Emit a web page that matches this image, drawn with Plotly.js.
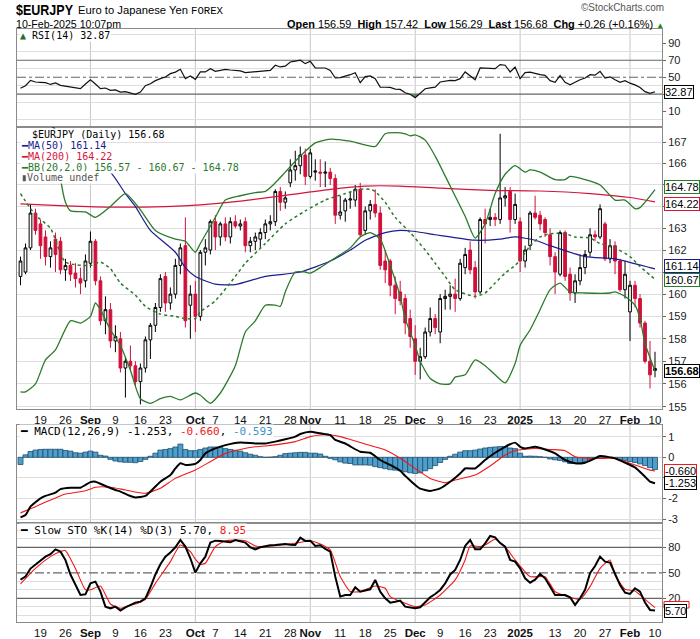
<!DOCTYPE html>
<html><head><meta charset="utf-8">
<script src="https://cdn.plot.ly/plotly-3.0.1.min.js"></script>
<style>html,body{margin:0;padding:0;background:#fff}#chart{width:700px;height:639px}</style>
</head><body><div id="chart"></div>
<script>
// ---------------- DATA ----------------
const holidays = ['2024-12-25', '2025-01-01'];
const firstDay = '2024-08-13', lastDay = '2025-02-10';

// daily OHLC, Aug 13 2024 .. Feb 10 2025
const open = [160.8,161.0,162.1,163.7,163.2,162.6,161.7,162.5,162.4,161.1,161.3,160.95,160.7,160.6,161.4,162.4,160.6,158.8,159.3,157.9,158.0,156.7,157.0,156.8,156.1,156.7,157.95,158.6,159.4,160.8,159.6,160.0,161.3,162.2,159.5,160.0,159.0,161.9,162.0,163.3,162.6,163.2,162.6,163.3,163.1,163.3,162.2,162.4,162.5,162.8,163.2,163.3,164.7,164.2,165.1,165.7,165.9,166.4,165.4,165.6,165.6,165.55,165.6,165.3,163.6,163.8,164.3,164.3,164.8,162.9,163.8,164.1,163.7,161.5,161.5,160.4,160.1,159.8,158.9,158.0,157.0,157.2,158.3,158.9,158.3,159.8,159.9,160.0,159.8,161.2,162.0,161.2,160.1,163.4,163.4,163.5,163.4,164.4,164.7,163.4,163.3,161.5,162.2,163.7,163.6,163.4,162.7,161.7,160.9,162.8,160.9,160.05,160.6,161.2,161.9,162.7,162.6,163.2,161.6,162.2,161.5,160.2,159.2,160.4,159.8,158.7,157.0,156.59];
const high = [161.7,162.3,164.1,163.9,163.4,162.9,162.4,162.8,162.6,161.6,161.5,161.4,161.2,161.8,162.85,162.5,160.8,159.9,159.6,158.6,158.3,157.2,157.7,157.0,156.9,158.1,158.7,159.6,160.9,161.0,160.3,161.6,162.3,163.5,160.4,160.6,162.0,162.5,163.4,163.6,163.3,163.5,163.5,163.6,163.4,163.5,162.6,162.8,163.0,163.4,163.6,164.8,164.9,164.7,166.2,166.6,166.8,166.7,166.7,166.2,166.2,166.1,165.8,165.5,164.5,164.4,164.7,165.0,165.1,164.0,164.3,164.8,164.0,162.0,161.6,160.8,160.6,160.0,159.3,158.6,157.6,158.5,159.4,159.1,160.0,160.2,160.4,160.7,161.6,162.1,162.4,161.5,163.5,163.9,163.9,163.7,167.4,164.9,164.9,164.6,163.5,162.2,163.8,164.5,163.8,163.5,163.0,161.9,162.9,162.9,161.2,160.9,161.8,162.0,163.0,162.9,164.1,163.3,162.5,162.4,161.6,161.5,160.6,160.6,160.0,158.8,157.9,157.42];
const low = [160.4,160.9,162.0,162.7,161.6,161.3,161.2,161.0,160.9,160.6,160.6,160.3,160.0,160.3,161.2,160.4,158.6,158.2,157.6,157.4,156.5,155.4,156.6,155.9,155.1,156.5,157.1,158.3,159.2,159.2,159.3,159.8,160.9,158.5,158.0,158.3,158.8,161.3,161.8,162.0,162.2,162.4,162.3,163.0,162.9,161.9,161.9,162.0,162.1,162.5,162.9,163.1,163.8,163.9,164.9,165.2,165.5,165.0,165.3,165.2,164.9,164.9,165.0,163.2,163.4,163.3,163.9,164.0,162.6,162.7,163.4,163.5,161.1,160.5,159.9,159.1,159.5,158.2,157.6,156.4,156.2,157.1,158.1,158.2,157.8,159.3,159.3,159.2,159.7,160.9,160.9,159.8,160.0,162.3,163.1,163.1,163.2,164.0,162.8,163.2,161.0,161.2,162.0,163.4,162.9,162.6,161.3,160.0,160.8,160.6,159.7,159.6,160.4,160.9,161.7,162.4,162.5,161.5,161.4,160.9,160.1,159.8,157.9,159.4,158.5,156.9,155.8,156.29];
const close = [161.5,162.1,163.7,162.9,162.2,161.7,162.1,161.8,161.1,161.3,160.9,160.7,160.5,161.5,162.4,160.6,158.8,159.3,157.9,158.1,156.7,157.0,156.8,156.1,156.7,157.95,158.6,159.4,160.7,159.6,160.0,161.3,162.1,158.8,160.0,159.0,161.9,162.1,163.3,162.6,163.2,162.6,163.3,163.1,163.2,162.2,162.4,162.6,162.8,163.2,163.3,164.7,164.2,164.4,165.7,165.9,166.4,165.4,166.5,165.65,165.55,165.6,165.3,163.6,163.75,164.3,164.35,164.8,162.7,163.8,164.1,163.7,161.3,161.1,160.4,159.8,159.7,158.7,158.1,157.0,157.2,158.3,158.9,158.5,159.8,159.9,160.0,159.8,161.4,161.8,161.1,160.1,163.4,163.2,163.5,163.4,164.4,164.5,163.4,164.1,161.5,162.0,163.7,163.5,163.2,162.8,161.7,161.0,162.8,160.8,160.05,160.6,161.2,161.8,162.7,162.6,163.9,161.6,162.2,161.5,160.2,160.9,160.4,159.8,158.7,157.0,156.4,156.68];

// overlays (sparse readings, MM-DD)
const ma50Dates = ['08-13','08-19','08-22','08-29','09-06','09-11','09-13','09-18','09-25','09-27','10-01','10-07','10-11','10-21','10-30','11-07','11-13','11-18','11-22','11-27','12-02','12-06','12-11','12-18','12-26','12-31','01-07','01-10','01-21','01-29','02-07','02-10'];
const ma50Vals  = [168.6,168.2,167.6,166.6,165.6,164.6,164.0,162.9,161.9,161.2,160.8,160.45,160.43,160.8,161.0,161.5,162.0,162.45,162.8,162.9,162.85,162.7,162.6,162.45,162.5,162.6,162.45,162.2,161.7,161.6,161.2,161.14];
const ma200Dates = ['08-13','08-26','09-09','09-23','10-02','10-14','10-28','11-07','11-18','11-27','12-09','12-23','01-08','01-22','02-03','02-10'];
const ma200Vals  = [164.12,164.03,163.97,164.0,164.08,164.25,164.55,164.8,164.95,164.95,164.85,164.75,164.72,164.6,164.42,164.22];
const bbUpDates = ['08-13','08-16','08-21','08-22','08-23','08-26','08-27','08-30','09-03','09-06','09-11','09-16','09-19','09-25','09-27','10-01','10-02','10-07','10-09','10-14','10-17','10-21','10-23','10-25','10-30','11-04','11-07','11-13','11-20','11-22','11-26','11-28','11-29','12-02','12-04','12-06','12-11','12-16','12-18','12-20','12-24','12-27','12-31','01-03','01-06','01-08','01-13','01-15','01-16','01-21','01-24','01-29','01-31','02-04','02-05','02-10'];
const bbUpVals  = [172.5,171.0,169.0,167.2,165.3,164.2,163.8,163.75,163.5,164.0,164.6,163.85,162.9,162.5,162.4,161.9,162.3,163.5,164.3,164.5,164.65,164.7,165.1,165.6,166.35,166.97,167.15,167.05,166.8,167.4,167.45,167.4,167.3,167.35,167.1,166.35,164.95,163.55,162.55,163.2,164.6,165.5,165.9,165.6,165.7,165.6,165.25,165.25,165.4,165.25,165.0,164.3,164.3,163.9,163.95,164.78];
const bbMidDates = ['08-13','08-16','08-21','08-26','09-02','09-04','09-06','09-10','09-13','09-17','09-20','09-25','09-27','10-01','10-02','10-07','10-11','10-15','10-21','10-25','10-31','11-06','11-12','11-15','11-19','11-20','11-22','11-26','11-29','12-04','12-06','12-10','12-12','12-18','12-20','12-24','12-27','12-31','01-02','01-06','01-08','01-10','01-15','01-17','01-22','01-24','01-29','02-03','02-05','02-10'];
const bbMidVals  = [164.6,163.6,163.0,161.45,161.3,161.45,161.15,160.5,159.95,159.45,159.1,159.0,158.9,158.9,159.2,159.7,160.8,161.4,162.3,163.2,163.8,164.3,164.6,164.8,164.8,164.7,164.2,163.5,162.8,162.0,161.4,160.8,160.2,159.9,160.05,160.5,160.95,161.3,161.55,162.2,162.6,162.75,162.75,162.6,162.55,162.3,162.1,161.7,161.25,160.67];
const bbLoDates = ['08-13','08-14','08-16','08-20','08-22','08-27','08-29','09-02','09-03','09-04','09-06','09-10','09-12','09-16','09-18','09-20','09-24','09-26','10-01','10-02','10-04','10-08','10-11','10-15','10-17','10-21','10-23','10-24','10-25','10-29','10-31','11-01','11-05','11-07','11-13','11-15','11-19','11-21','11-25','11-27','11-28','12-02','12-03','12-05','12-09','12-11','12-12','12-16','12-18','12-20','12-24','12-27','12-31','01-02','01-06','01-08','01-10','01-14','01-16','01-21','01-28','01-29','01-31','02-04','02-05','02-06','02-10'];
const bbLoVals  = [155.65,155.65,156.0,157.06,157.5,158.8,158.7,159.0,159.6,159.3,158.4,157.7,156.6,155.35,155.15,155.35,155.45,155.3,155.6,155.5,155.15,155.6,156.8,158.3,158.8,159.5,159.5,159.45,160.1,161.0,161.0,160.95,161.2,161.5,162.1,162.6,162.8,162.5,161.3,159.9,158.9,157.7,157.0,156.24,156.0,156.0,156.3,156.4,157.06,156.8,156.4,156.05,156.9,157.7,158.4,159.3,160.2,160.5,160.1,160.05,160.05,160.1,159.9,159.5,158.9,157.8,156.57];

// RSI(14), daily
const rsi = [37,40,46.3,44.4,44,43.6,41.5,43.2,40.4,39.5,38.8,38,36.5,42,47.1,42,36.5,37.3,34.5,35,32.5,33,31.5,29.8,32.5,40,42.4,46,48.3,50.3,54.2,56,59.3,48.3,51.5,47.5,56.2,56.2,60.1,57,58,59.3,58.5,58.2,57.5,55.4,55.8,56.2,57,57.5,58,64.1,62.1,63,68,69,70,66,68.8,60.9,60.9,60.9,58,49.1,49.5,51,53,55.4,43.6,50.7,51.5,48.3,38.4,38.2,38,36,35.7,31.7,30,25.8,30.6,36.5,37.5,38.4,44.4,45,46.3,46,48.3,56.2,52,47.1,60.9,60.9,60.5,60.1,64.9,64.1,56.2,62.1,48.3,55.4,56,54.2,53,52.2,46,44,52,44,41,44,47,49,53,52.5,57,49,50.5,47,44,46,43,41,38,33,31,32.87];

// MACD(12,26,9)
const macdDates = ['08-13','08-14','08-15','08-19','08-20','08-22','08-23','08-27','08-29','08-30','09-02','09-03','09-05','09-09','09-10','09-12','09-13','09-17','09-18','09-20','09-24','09-25','09-26','09-27','10-01','10-02','10-03','10-07','10-09','10-14','10-17','10-21','10-23','10-25','10-29','10-30','11-01','11-05','11-07','11-08','11-12','11-13','11-15','11-19','11-21','11-25','11-27','11-28','11-29','12-02','12-03','12-05','12-09','12-11','12-13','12-16','12-18','12-20','12-24','12-27','12-30','12-31','01-02','01-03','01-07','01-09','01-13','01-15','01-17','01-21','01-23','01-24','01-29','01-31','02-04','02-06','02-07','02-10'];
const macdVals  = [-2.9,-2.79,-2.39,-1.99,-1.87,-1.71,-1.54,-1.47,-1.47,-1.34,-1.2,-1.18,-1.39,-1.58,-1.66,-1.87,-1.94,-1.87,-1.66,-1.18,-0.86,-0.54,-0.29,-0.37,-0.32,-0.13,0.19,0.43,0.59,0.72,0.67,0.67,0.76,0.87,1.0,1.13,1.24,1.16,1.08,0.84,0.67,0.53,0.27,0.22,-0.13,-0.37,-0.65,-0.9,-1.12,-1.34,-1.52,-1.63,-1.5,-1.18,-0.78,-0.54,-0.54,-0.13,0.22,0.51,0.63,0.71,0.51,0.43,0.51,0.38,0.19,-0.13,-0.29,-0.26,-0.05,0.06,-0.05,-0.26,-0.49,-0.94,-1.18,-1.253];
const signalDates = ['08-13','08-16','08-21','08-26','08-30','09-03','09-06','09-11','09-17','09-20','09-25','10-01','10-04','10-09','10-14','10-17','10-21','10-24','10-29','11-01','11-05','11-07','11-11','11-13','11-18','11-22','11-27','12-02','12-05','12-10','12-12','12-18','12-23','12-27','12-31','01-07','01-10','01-15','01-17','01-22','01-27','01-29','02-03','02-06','02-07','02-10'];
const signalVals  = [-2.69,-2.39,-2.07,-1.78,-1.62,-1.45,-1.45,-1.58,-1.74,-1.5,-1.02,-0.61,-0.21,0.19,0.38,0.51,0.55,0.64,0.76,1.0,1.08,1.08,1.0,0.86,0.64,0.35,-0.05,-0.54,-1.02,-1.23,-1.1,-0.86,-0.42,0.11,0.32,0.43,0.38,0.32,0.03,-0.05,-0.05,-0.05,-0.29,-0.54,-0.62,-0.66];
const macdHist = [-0.35,0.12,0.28,0.35,0.38,0.39,0.39,0.39,0.39,0.33,0.3,0.22,0.2,0.25,0.3,0.25,0.1,0.06,-0.1,-0.18,-0.22,-0.24,-0.24,-0.26,-0.2,-0.1,0.05,0.2,0.35,0.38,0.42,0.5,0.64,0.38,0.32,0.32,0.38,0.45,0.5,0.5,0.48,0.42,0.38,0.34,0.3,0.22,0.15,0.1,0.03,0.0,0.01,0.03,0.1,0.18,0.2,0.22,0.24,0.24,0.2,0.2,0.16,0.05,-0.05,-0.12,-0.22,-0.28,-0.3,-0.37,-0.37,-0.37,-0.38,-0.45,-0.5,-0.55,-0.6,-0.62,-0.65,-0.7,-0.75,-0.78,-0.75,-0.65,-0.55,-0.4,-0.25,-0.1,0.05,0.15,0.25,0.32,0.32,0.35,0.4,0.45,0.48,0.5,0.52,0.52,0.45,0.42,0.2,0.05,0.06,0.05,0.03,0.0,-0.08,-0.12,-0.15,-0.22,-0.3,-0.3,-0.3,-0.2,-0.12,-0.06,0.06,0.05,0.0,-0.05,-0.1,-0.15,-0.2,-0.25,-0.32,-0.4,-0.5,-0.593];

// Slow STO %K(14) %D(3)
const stoK = [42,45.5,55,60,65,69,72,77.6,74.9,65,48,35,23.9,24.7,37.6,39.6,27.8,10.2,8.2,10.2,5.5,9.4,12.2,14.9,16.1,20,33,48,60,69,74,80,88.6,80.8,67.1,50.2,61.2,69,85.5,87.8,87.5,87,85.9,88.6,87,85.5,80,77.6,80,81.6,82.5,82.7,83.5,83.9,83,82.7,91.4,87.5,87.8,81.6,82.4,78,74.9,45.5,22,23.9,23.9,32.9,27.8,29,30.6,41.6,27.8,20,14.9,16,17.3,10.2,9,8.2,9.4,15,21.2,25,29.8,37.6,48,53.3,65.1,81.6,88.6,77.6,77.6,84.7,93.3,91.8,85,80.8,65.1,63.1,55.3,43.5,38.4,42,48.6,43.5,33,23.9,24,23.9,21.2,12.2,20,30,49.4,58,69,63.1,62,48,35.7,26.7,25.1,31.8,27.8,15,6.3,5.7];
const stoDDates = ['08-13','08-16','08-21','08-23','08-26','08-28','08-30','09-02','09-04','09-06','09-10','09-12','09-13','09-17','09-19','09-24','09-26','09-30','10-01','10-02','10-03','10-07','10-09','10-15','10-17','10-21','10-25','10-29','11-01','11-05','11-07','11-11','11-13','11-15','11-20','11-22','11-25','11-28','12-02','12-04','12-09','12-12','12-16','12-17','12-19','12-20','12-24','12-27','12-31','01-06','01-09','01-13','01-16','01-20','01-22','01-24','01-28','01-29','01-31','02-04','02-06','02-10'];
const stoDVals  = [37,55.3,69,75,76,55,30,30,34.5,13.3,8.2,12,13.3,18.8,37.6,63.1,82.7,74.9,66,60,61.2,80.8,87.8,87.8,81.6,80.8,83.5,84.7,87.8,83.9,76.9,45.5,28,27.8,34.5,31.8,22,14.1,10.2,12.2,23.9,41.6,65.1,81.6,80.8,82.7,89.4,80.8,65.1,45.5,45.5,27.8,21.2,18.8,33.7,55.3,65.1,47.5,30.6,28.6,18.8,8.95];

// axis labels
const tickDates = ['08-19','08-26','09-02','09-09','09-16','09-23','10-01','10-07','10-14','10-21','10-28','11-01','11-11','11-18','11-25','12-02','12-09','12-16','12-23','01-02','01-13','01-20','01-27','02-03','02-10'];
const tickText  = ['19','26','<b>Sep</b>','9','16','23','<b>Oct</b>','7','14','21','28','<b>Nov</b>','11','18','25','<b>Dec</b>','9','16','23','<b>2025</b>','13','20','27','<b>Feb</b>','10'];
const monthDates = ['09-02','10-01','11-01','12-02','01-02','02-03'];
const priceTicks = [155,156,157,158,159,160,161,162,163,164,165,166,167];
const priceTickText = ['155','156','157','158','159','160','','162','163','','165','166','167'];
const rsiTicks = [10,30,50,70,90], rsiTickText = ['10','','50','70','90'];
const macdTicks = [-3,-2,-1,0,1], macdTickText = ['-3','-2','','0','1'];
const stoTicks = [20,50,80];

// ---------------- BUILD ----------------
function buildDays() {
  const out = []; let t = Date.parse(firstDay + 'T00:00:00Z'); const end = Date.parse(lastDay + 'T00:00:00Z');
  while (t <= end) { const d = new Date(t); const s = d.toISOString().slice(0, 10); const wd = d.getUTCDay();
    if (wd !== 0 && wd !== 6 && !holidays.includes(s)) out.push(s); t += 86400000; }
  return out;
}
const days = buildDays();
const idx = days.map((_, i) => i);
function ix(md) { return days.indexOf((+md.slice(0, 2) >= 8 ? '2024-' : '2025-') + md); }
const X = arr => arr.map(ix);
const last = a => a[a.length - 1];

const W = 700, H = 639, ML = 17, MR = 38, MT = 29, MB = 17;
const PW = W - ML - MR, PH = H - MT - MB;
const px = x => (x - ML) / PW, py = y => (H - MB - y) / PH;

const RED = '#d0103a', NAVY = '#1c1c8e', MA2 = '#d4143c', GREEN = '#2b7a2b', GRID = '#dedede', FRAME = '#8a8a8a';
const SANS = 'Liberation Sans, Arial, sans-serif', MONO = 'DejaVu Sans Mono, monospace';

const traces = [];
// RSI panel
traces.push({type: 'scatter', mode: 'lines', x: idx, y: rsi.map(() => 30), xaxis: 'x', yaxis: 'y', line: {width: 0, color: 'rgba(0,0,0,0)'}, hoverinfo: 'skip'});
traces.push({type: 'scatter', mode: 'lines', x: idx, y: rsi.map(v => Math.min(v, 30)), xaxis: 'x', yaxis: 'y', line: {width: 0, color: 'rgba(0,0,0,0)'}, fill: 'tonexty', fillcolor: 'rgba(70,130,70,0.85)'});
traces.push({type: 'scatter', mode: 'lines', x: idx, y: rsi, xaxis: 'x', yaxis: 'y', line: {color: '#111', width: 1.2}});
// Price panel
traces.push({type: 'scatter', mode: 'lines', x: X(ma200Dates), y: ma200Vals, xaxis: 'x2', yaxis: 'y2', line: {color: MA2, width: 1.2, shape: 'spline', smoothing: 0.6}});
traces.push({type: 'scatter', mode: 'lines', x: X(ma50Dates), y: ma50Vals, xaxis: 'x2', yaxis: 'y2', line: {color: NAVY, width: 1.2, shape: 'spline', smoothing: 0.6}});
traces.push({type: 'scatter', mode: 'lines', x: X(bbUpDates), y: bbUpVals, xaxis: 'x2', yaxis: 'y2', line: {color: GREEN, width: 1.3, shape: 'spline', smoothing: 0.6}});
traces.push({type: 'scatter', mode: 'lines', x: X(bbLoDates), y: bbLoVals, xaxis: 'x2', yaxis: 'y2', line: {color: GREEN, width: 1.3, shape: 'spline', smoothing: 0.6}});
traces.push({type: 'scatter', mode: 'lines', x: X(bbMidDates), y: bbMidVals, xaxis: 'x2', yaxis: 'y2', line: {color: GREEN, width: 1.5, dash: 'dot', shape: 'spline', smoothing: 0.6}});
traces.push({type: 'candlestick', x: idx, open, high, low, close, xaxis: 'x2', yaxis: 'y2', whiskerwidth: 0,
  increasing: {line: {color: '#000', width: 1}, fillcolor: '#fff'},
  decreasing: {line: {color: RED, width: 1}, fillcolor: RED}});
// MACD panel
traces.push({type: 'bar', x: idx, y: macdHist, xaxis: 'x3', yaxis: 'y3', width: 1, marker: {color: '#4f9fcd', line: {color: '#1f4d6b', width: 0.8}}});
traces.push({type: 'scatter', mode: 'lines', x: X(signalDates), y: signalVals, xaxis: 'x3', yaxis: 'y3', line: {color: '#f01818', width: 1.1, shape: 'spline', smoothing: 0.5}});
traces.push({type: 'scatter', mode: 'lines', x: X(macdDates), y: macdVals, xaxis: 'x3', yaxis: 'y3', line: {color: '#000', width: 2, shape: 'spline', smoothing: 0.5}});
// STO panel
traces.push({type: 'scatter', mode: 'lines', x: X(stoDDates), y: stoDVals, xaxis: 'x4', yaxis: 'y4', line: {color: '#f01818', width: 1.1, shape: 'spline', smoothing: 0.5}});
traces.push({type: 'scatter', mode: 'lines', x: idx, y: stoK, xaxis: 'x4', yaxis: 'y4', line: {color: '#000', width: 2}});

const xr = [-0.7, days.length + 0.4];
const xBase = {range: xr, showgrid: false, zeroline: false, showline: true, mirror: true, linecolor: FRAME, linewidth: 1,
  tickmode: 'array', tickvals: X(tickDates), ticktext: tickText, ticks: '', tickfont: {family: SANS, size: 11.5, color: '#111'}, fixedrange: true};
const yBase = {side: 'right', showline: true, mirror: true, linecolor: FRAME, linewidth: 1, zeroline: false, gridcolor: GRID,
  ticks: 'outside', ticklen: 3, tickcolor: '#666', tickfont: {family: SANS, size: 11, color: '#222'}, fixedrange: true};

const dom = (top, bot) => [py(bot), py(top)];
const layout = {
  width: W, height: H, margin: {l: ML, r: MR, t: MT, b: MB, pad: 0},
  paper_bgcolor: '#fff', plot_bgcolor: '#fff', showlegend: false, hovermode: false,
  boxgap: 0.22, bargap: 0,
  xaxis:  Object.assign({}, xBase, {anchor: 'y', showticklabels: false}),
  xaxis2: Object.assign({}, xBase, {anchor: 'y2', showticklabels: true, rangeslider: {visible: false}}),
  xaxis3: Object.assign({}, xBase, {anchor: 'y3', showticklabels: false}),
  xaxis4: Object.assign({}, xBase, {anchor: 'y4', showticklabels: true}),
  yaxis:  Object.assign({}, yBase, {domain: dom(29, 127), range: [-8.6, 106.8], tickmode: 'array', tickvals: rsiTicks, ticktext: rsiTickText, showgrid: false,
            minor: {tickmode: 'array', tickvals: [0, 20, 40, 60, 80, 100], showgrid: true, gridcolor: GRID, ticks: ''}}),
  yaxis2: Object.assign({}, yBase, {domain: dom(127, 409), type: 'log', range: [Math.log10(154.9), Math.log10(167.72)], tickmode: 'array', tickvals: priceTicks, ticktext: priceTickText, showgrid: true}),
  yaxis3: Object.assign({}, yBase, {domain: dom(425, 523), range: [-3.18, 1.564], tickmode: 'array', tickvals: macdTicks, ticktext: macdTickText, showgrid: true}),
  yaxis4: Object.assign({}, yBase, {domain: dom(523, 622), range: [-7.9, 108.6], tickmode: 'array', tickvals: stoTicks, showgrid: false,
            minor: {tickmode: 'array', tickvals: [0, 10, 30, 40, 60, 70, 90, 100], showgrid: true, gridcolor: GRID, ticks: ''}}),
  shapes: [], annotations: []
};

// month separators in every panel
[['x', 'y'], ['x2', 'y2'], ['x3', 'y3'], ['x4', 'y4']].forEach(([xa, ya]) => {
  monthDates.forEach(m => layout.shapes.push({type: 'line', xref: xa, yref: ya + ' domain', x0: ix(m), x1: ix(m), y0: 0, y1: 1, line: {color: '#c6c6c6', width: 1}, layer: 'below'}));
});
// RSI / STO reference levels
[['y', 70, 'solid'], ['y', 30, 'solid'], ['y', 50, 'dashdot'], ['y4', 80, 'solid'], ['y4', 20, 'solid'], ['y4', 50, 'dashdot']].forEach(([ya, v, d]) =>
  layout.shapes.push({type: 'line', xref: 'x domain', yref: ya, x0: 0, x1: 1, y0: v, y1: v, line: {color: '#666', width: 1.2, dash: d}, layer: 'below'}));
// highlight on the latest bar
const li = days.length - 1;
layout.shapes.push({type: 'rect', xref: 'x2', yref: 'y2', x0: li - 0.7, x1: li + 0.8, y0: Math.log10(last(low) - 0.1), y1: Math.log10(last(high) + 0.12),
  fillcolor: '#ffff66', line: {width: 0}, layer: 'below'});
// %D value tag, mostly hidden behind the %K tag (as in the original)
layout.shapes.push({type: 'rect', xref: 'paper', yref: 'paper', x0: px(664), x1: px(689), y0: py(608), y1: py(601.5),
  fillcolor: '#fff', line: {color: '#f01818', width: 1}});

// ---------------- TEXT ----------------
const A = layout.annotations;
const squeeze = {};   // annotation index -> target text width (condensed header font)
function note(text, x, y, font, extra, width) {
  A.push(Object.assign({xref: 'paper', yref: 'paper', x: px(x), y: py(y), text, showarrow: false, xanchor: 'left', yanchor: 'middle', align: 'left', borderpad: 0, font}, extra || {}));
  if (width) squeeze[A.length - 1] = width;
}
note('<b>$EURJPY</b>', 15, 10, {family: SANS, size: 15, color: '#000'}, null, 57);
note('Euro to Japanese Yen', 76.5, 10.5, {family: SANS, size: 11, color: '#000'}, null, 110);
note('FOREX', 190, 11, {family: 'Liberation Mono, monospace', size: 10, color: '#000'}, null, 32);
note('10-Feb-2025 10:07pm', 15, 23.5, {family: SANS, size: 11.5, color: '#000'}, null, 105);
note('©StockCharts.com', 580, 8, {family: SANS, size: 10, color: '#555'}, null, 83);
note('<b>Open</b> 156.59  <b>High</b> 157.42  <b>Low</b> 156.29  <b>Last</b> 156.68  <b>Chg</b> +0.26 (+0.16%) <span style="color:#1a8a1a;font-size:8px">▲</span>', 286, 23.5, {family: SANS, size: 11, color: '#000'}, null, 377);

const legBox = {bgcolor: '#fff'};
const lf = (c, s) => ({family: MONO, size: s || 10, color: c});
note('<span style="color:#2b6a2b">▲</span> RSI(14) ' + last(rsi).toFixed(2), 19, 35.5, lf('#000'), legBox);
note('$EURJPY (Daily) ' + last(close).toFixed(2), 31, 134.3, lf('#000'), legBox);
note('━MA(50) ' + last(ma50Vals).toFixed(2), 19.5, 145.7, lf(NAVY), legBox);
note('━MA(200) ' + last(ma200Vals).toFixed(2), 19.5, 156.7, lf(MA2), legBox);
note('━BB(20,2.0) ' + last(bbLoVals).toFixed(2) + ' - ' + last(bbMidVals).toFixed(2) + ' - ' + last(bbUpVals).toFixed(2), 19.5, 167.3, lf(GREEN), legBox);
note('▮Volume undef', 19.5, 177.7, lf('#555'), legBox);
note('━ MACD(12,26,9) ' + last(macdVals).toFixed(3) + ', <span style="color:#f01818">' + last(signalVals).toFixed(3) + '</span>, <span style="color:#3d93c8">' + last(macdHist).toFixed(3) + '</span>', 19, 431.7, lf('#000', 11), legBox);
note('━ Slow STO %K(14) %D(3) ' + last(stoK).toFixed(2) + ', <span style="color:#f01818">' + last(stoDVals).toFixed(2) + '</span>', 19, 530.7, lf('#000', 11), legBox);

function tag(v, dec, yref, yval, color, bold, yshift) {
  const t = v.toFixed(dec);
  A.push({xref: 'paper', x: 1, xanchor: 'left', xshift: 2, yref, y: yval, yanchor: 'middle', yshift: yshift || 0,
    text: bold ? '<b>' + t + '</b>' : t, showarrow: false, bgcolor: '#fff', bordercolor: color, borderwidth: 1, borderpad: 0,
    font: {family: SANS, size: 11, color: '#000'}});
}
tag(last(rsi), 2, 'y', last(rsi), '#000');
tag(last(bbUpVals), 2, 'y2', Math.log10(last(bbUpVals)), GREEN, false, 3);
tag(last(ma200Vals), 2, 'y2', Math.log10(last(ma200Vals)), MA2, false, -2);
tag(last(ma50Vals), 2, 'y2', Math.log10(last(ma50Vals)), NAVY, false, 3);
tag(last(bbMidVals), 2, 'y2', Math.log10(last(bbMidVals)), GREEN, false, -1);
tag(last(close), 2, 'y2', Math.log10(last(close)), '#000', true, -3);
tag(last(signalVals), 3, 'y3', last(signalVals), '#f01818');
tag(last(macdVals), 3, 'y3', last(macdVals), '#000');
tag(last(stoK), 2, 'y4', last(stoK), '#000', false, -1);

Plotly.newPlot('chart', traces, layout, {displayModeBar: false, staticPlot: true}).then(gd => {
  gd.querySelectorAll('g.annotation').forEach(g => {
    const i = +g.getAttribute('data-index');
    if (squeeze[i]) { const t = g.querySelector('text'); t.setAttribute('textLength', squeeze[i]); t.setAttribute('lengthAdjust', 'spacingAndGlyphs'); }
  });
});
</script>
</body></html>
